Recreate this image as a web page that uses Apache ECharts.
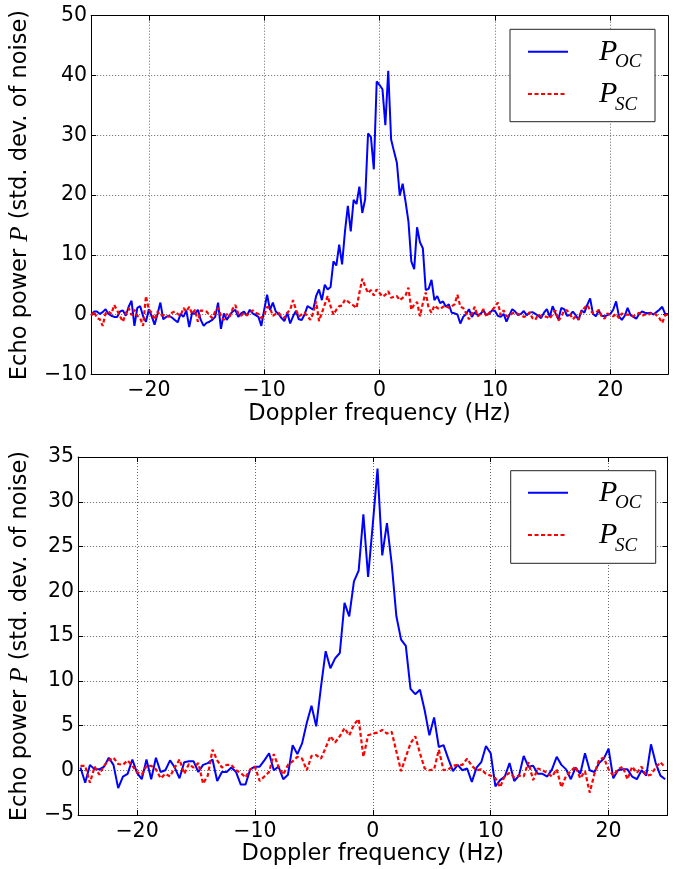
<!DOCTYPE html>
<html>
<head>
<meta charset="utf-8">
<script src="https://cdn.jsdelivr.net/npm/echarts@6/dist/echarts.min.js"></script>
<style>html,body{margin:0;padding:0;background:#fff;}#c{width:688px;height:869px;}</style>
</head>
<body>
<div id="c"></div>
<script>
// ---------- data ----------
// top panel: sampled every 0.25 Hz from -25 Hz
var TOP_F0 = -25, TOP_STEP = 0.25;
var TOP_OC = [
-0.1,0.5,0.5,0.1,0.4,0.9,0.1,-0.2,-0.4,-0.4,
0.5,0.7,-0.2,1.3,2.3,-1.9,1.1,1.4,-0.3,-1.2,
0.9,-0.3,-1.7,0.1,2.0,-0.8,-0.4,-0.2,-0.5,-0.9,
-1.3,0.1,-0.4,0.7,-2.1,0.3,0.1,0.8,-0.9,-1.9,
-1.4,-1.2,-0.9,-0.4,2.0,-2.4,0.2,-0.9,-0.1,0.5,
0.8,-0.4,0.2,0.5,-0.2,0.8,0.2,-0.1,-0.4,-1.9,
0.8,3.3,0.8,2.0,0.5,0.1,
-0.6,-1.1,0.3,-1.5,-0.3,0.6,-0.8,-0.9,0,1.4,
1.1,0.8,3.1,4.2,2.4,5.0,4.2,4.6,8.9,8.2,
11.7,8.4,13.9,18.2,13.9,19.2,18.5,21.4,17.0,19.3,
30.3,29.7,24.3,39.0,38.4,37.7,31.7,40.8,29.3,27.3,
25.4,19.9,21.9,18.9,15.6,8.9,7.6,14.6,12.1,11.1,
4.1,4.3,5.8,2.4,3.1,1.9,2.2,1.3,1.7,0.3,
0.2,0,-1.5,
-0.4,0.1,0.9,-0.4,0.4,-0.1,0.1,0.7,-0.1,0.1,
0.7,0.6,-0.2,-0.4,0.1,-1.2,-0.1,0.9,0.5,-0.1,
0.1,0.6,-0.1,0.3,0.4,0.1,-0.2,-0.6,0.3,0.9,
-0.4,1.4,0.2,-0.8,1.1,0.9,-0.2,-0.1,0.5,-0.1,
-0.9,0.7,0.3,1.6,2.7,0.1,-0.3,0.7,-0.2,-0.3,
-0.1,0.1,0.8,2.2,-0.3,-0.9,-0.2,1.1,-0.1,-0.4,
-0.7,0.1,0.5,0.3,0.2,0.3,0,0.4,0.8,1.3,
0.1,0.1
];
var TOP_SC = [
-0.2,0.5,-0.6,-0.8,-1.9,0.2,0.5,0.1,1.6,0.7,
-0.3,-1.2,0.2,1.1,-0.1,0.8,-0.2,-0.6,-1.9,3.1,
0.8,0.3,-0.9,0.5,-0.2,-0.1,-0.1,-0.4,0.3,0.5,
0.1,-0.2,1.1,0.5,1.3,0.1,0.8,-1.2,0.7,0.6,
0.5,-0.1,-0.6,0.5,1.1,-0.2,-0.9,0.1,-0.4,0.9,
1.6,0.1,-0.2,0.3,-0.1,0.2,0.7,0.3,0.1,-0.6,
-0.1,1.3,1.1,-0.2,0.1,0.3,
-0.3,-0.6,0.3,0.8,2.4,0.8,-0.3,0,0.3,-0.3,
-0.9,0.3,2.2,-1.1,0.3,1.7,3.1,1.4,0,0.8,
1.4,1.5,2.5,2.2,1.8,1.5,1.1,3.6,6.0,4.7,
3.6,4.1,3.2,4.2,3.6,3.0,3.3,3.9,2.8,3.0,
3.1,2.4,2.8,3.2,4.5,0.8,1.7,2.1,-0.3,1.9,
3.7,1.1,0.3,1.5,1.1,0.9,1.3,1.5,1.1,1.4,
1.7,3.3,1.3,
1.1,0.2,-0.8,0.2,1.3,-0.3,0.1,0.9,-0.3,0.3,
0.7,1.3,2.0,-0.1,0.7,-0.3,-0.2,0.2,0.3,0.1,
-0.1,-0.4,-0.2,0.4,-0.6,-0.9,0,-0.3,-0.3,-0.4,
-0.7,0.1,0.7,-1.0,-0.4,0.7,0.7,0.1,-0.8,-0.3,
-0.8,0.5,1.1,1.6,0.7,0.2,0.3,0.8,-0.3,-0.7,
0.2,-0.1,-0.3,0.1,-0.6,0.2,-0.1,0,-0.1,-0.3,
0,0.3,-0.2,0,-0.1,0.2,0.3,-0.1,-0.6,-1.4,
-0.1,0
];
// bottom panel: sampled every 0.4 Hz from -24.8 Hz
var BOT_F0 = -24.8, BOT_STEP = 0.4;
var BOT_OC = [
0.3,
-1.4,0.6,0.1,0.1,0.4,1.4,0.6,-2.0,-0.7,-0.4,
1.2,-0.3,-1.0,1.2,-1.0,1.4,-0.2,0,1.1,0.3,
-0.9,0.9,1.0,1.0,-0.2,0.6,0.8,1.2,-1.2,-0.2,
-0.2,0.3,-0.2,-1.6,-1.6,0.1,0.4,0.4,1.1,1.9,
0.0,0.4,-1.0,-0.5,2.8,1.8,3.0,5.3,7.2,4.9,
9.3,13.3,11.4,12.5,13.1,18.7,17.2,21.1,22.3,28.6,
21.6,27.5,33.7,24.0,27.6,23.1,17.2,14.6,13.9,9.1,
8.5,9.0,6.7,3.9,5.9,2.6,2.8,1.3,-0.1,0.6,
0,0.2,-1.3,
0.3,0.9,2.7,1.9,-1.8,-1.1,-0.7,0.8,-1.2,-0.6,
1.6,0.4,0.5,-0.4,-0.4,-0.7,0.1,1.5,0.6,0.1,
-1.0,0.3,-0.4,1.9,0,-0.2,0.8,1.3,2.4,-0.9,
0,0.1,0.1,-0.7,-1.0,0,-0.6,2.9,0.8,-0.6,
-1.0
];
var BOT_SC = [
0.5,
0.5,-1.4,0.4,-0.5,0.5,1.1,1.4,0.7,0.6,1.1,
0.5,-0.2,-0.5,0.5,0.5,0.1,-0.9,-0.4,-0.7,0.3,
1.2,-0.4,0.7,0.3,0.8,-1.5,-0.6,2.3,1.1,0.3,
0.6,0.6,0,-0.3,-0.8,0.1,0.4,-1.2,-0.7,-0.2,
1.8,0.4,-0.5,0.6,1.0,1.5,1.3,0,1.6,1.7,
1.3,2.5,3.8,3.1,3.8,4.7,3.9,5.1,5.7,1.5,
3.9,4.1,4.2,4.5,4.1,4.3,2.1,-0.1,1.5,3.0,
3.8,1.9,0.2,0,0.1,2.3,0,0.1,0.5,0.6,
0.6,1.3,0.5,
0,0.1,-0.4,-0.6,-0.9,-1.9,-0.6,-0.3,-0.8,-0.6,
-0.7,0.9,-1.1,0.2,0,-0.3,-0.7,0.1,-1.9,-0.6,
-0.1,0.4,-0.9,-0.1,-2.5,-0.4,1.2,1.4,0.1,-0.6,
0.1,0.4,-1.0,0.4,-0.3,0.4,-0.6,-0.5,0.3,0.9,
0.3
];
var X_TICKS = [-20, -10, 0, 10, 20];
var TOP_Y_TICKS = [-10, 0, 10, 20, 30, 40, 50];
var BOT_Y_TICKS = [-5, 0, 5, 10, 15, 20, 25, 30, 35];
var X_TITLE = 'Doppler frequency (Hz)';
var Y_TITLE = 'Echo power {p|P} (std. dev. of noise)';

// ---------- chart ----------
function pairs(f0, step, arr) { return arr.map(function (v, i) { return [f0 + i * step, v]; }); }
function minus(v) { return String(v).replace('-', '\u2212'); }

var FONT = 'DejaVu Sans';
var gridLine = { show: true, lineStyle: { color: '#666', width: 1, type: [1, 2] } };
var axLine = { show: true, onZero: false, lineStyle: { color: '#000', width: 1 } };
var tick = function (vals) { return { show: true, inside: true, length: 5, lineStyle: { color: '#000' }, customValues: vals }; };

function xAx(grid, pos, main, nameGap) {
  return {
    type: 'value', gridIndex: grid, position: pos, min: -25, max: 25,
    axisLine: axLine, axisTick: tick(X_TICKS),
    axisLabel: main ? { show: true, customValues: X_TICKS, formatter: minus, color: '#000', fontFamily: FONT, fontSize: 20.5, margin: 6 } : { show: false },
    splitLine: main ? gridLine : { show: false },
    name: main ? X_TITLE : '', nameLocation: 'middle', nameGap: nameGap,
    nameTextStyle: { color: '#000', fontFamily: FONT, fontSize: 22.5 }
  };
}
function yAx(grid, pos, main, min, max, interval, nameGap) {
  return {
    type: 'value', gridIndex: grid, position: pos, min: min, max: max, interval: interval,
    axisLine: axLine, axisTick: { show: true, inside: true, length: 5, lineStyle: { color: '#000' } },
    axisLabel: main ? { show: true, formatter: minus, color: '#000', fontFamily: FONT, fontSize: 20.5, margin: 4 } : { show: false },
    splitLine: main ? gridLine : { show: false },
    name: main ? Y_TITLE : '', nameLocation: 'middle', nameGap: nameGap, nameRotate: 90,
    nameTextStyle: { color: '#000', fontFamily: FONT, fontSize: 22.5,
      rich: { p: { fontFamily: 'Liberation Serif', fontStyle: 'italic', fontSize: 25, color: '#000' } } }
  };
}
function line(name, data, xi, yi, color, dashed) {
  return {
    type: 'line', name: name, data: data, xAxisIndex: xi, yAxisIndex: yi,
    showSymbol: false, symbol: 'none', animation: false,
    lineStyle: { color: color, width: dashed ? 2.2 : 2, type: dashed ? [4, 2.5] : 'solid' },
    z: dashed ? 3 : 2
  };
}
function legend(x0, y0, w, h, yOC, ySC) {
  var els = [
    { type: 'rect', shape: { x: x0, y: y0, width: w, height: h }, style: { fill: '#fff', stroke: '#222', lineWidth: 1 }, z: 100 },
    { type: 'line', shape: { x1: 528, y1: yOC, x2: 568, y2: yOC }, style: { stroke: '#0000ff', lineWidth: 2 }, z: 101 },
    { type: 'line', shape: { x1: 528, y1: ySC, x2: 566, y2: ySC }, style: { stroke: '#ff0000', lineWidth: 2.2, lineDash: [4, 2.5] }, z: 101 }
  ];
  [['OC', yOC], ['SC', ySC]].forEach(function (r) {
    els.push({ type: 'text', x: 599, y: r[1], style: { text: 'P', font: 'italic 30px "Liberation Serif"', fill: '#000', verticalAlign: 'middle', align: 'left' }, z: 102 });
    els.push({ type: 'text', x: 615, y: r[1] + 10.5, style: { text: r[0], font: 'italic 19px "Liberation Serif"', fill: '#000', verticalAlign: 'middle', align: 'left' }, z: 102 });
  });
  return els;
}

var chart = echarts.init(document.getElementById('c'), null, { renderer: 'canvas' });
chart.setOption({
  backgroundColor: '#fff',
  animation: false,
  grid: [
    { left: 88, top: 15.7, width: 580, height: 358.6 },
    { left: 73.5, top: 457, width: 594, height: 358 }
  ],
  xAxis: [ xAx(0, 'bottom', true, 26), xAx(0, 'top', false, 0), xAx(1, 'bottom', true, 26), xAx(1, 'top', false, 0) ],
  yAxis: [ yAx(0, 'left', true, -10, 50, 10, 46), yAx(0, 'right', false, -10, 50, 10, 0),
           yAx(1, 'left', true, -5, 35, 5, 32), yAx(1, 'right', false, -5, 35, 5, 0) ],
  series: [
    line('P_OC', pairs(TOP_F0, TOP_STEP, TOP_OC), 0, 0, '#0000ff', false),
    line('P_SC', pairs(TOP_F0, TOP_STEP, TOP_SC), 0, 0, '#ff0000', true),
    line('P_OC', pairs(BOT_F0, BOT_STEP, BOT_OC), 2, 2, '#0000ff', false),
    line('P_SC', pairs(BOT_F0, BOT_STEP, BOT_SC), 2, 2, '#ff0000', true)
  ],
  graphic: legend(510, 29.3, 145, 92.4, 51.7, 94).concat(legend(510.7, 470.7, 145, 92.6, 492.7, 535))
});
</script>
</body>
</html>
